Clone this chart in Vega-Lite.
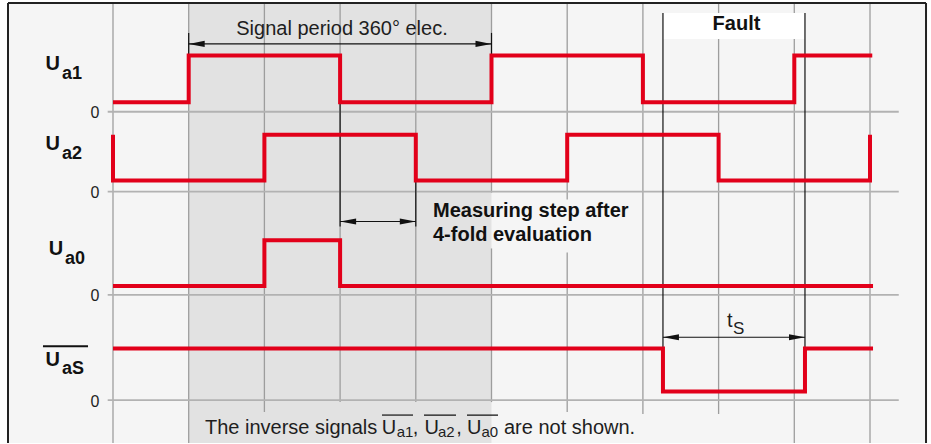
{
  "$schema": "https://vega.github.io/schema/vega-lite/v6.json",
  "width": 931,
  "height": 444,
  "autosize": {"type": "fit", "contains": "padding"},
  "padding": 0,
  "background": "#ffffff",
  "config": {"view": {"stroke": null}},
  "datasets": {
    "frameFill": [{"x": -1.387, "x2": 10.74, "y": 0, "y2": 44.1}],
    "shade": [{"x": 1, "x2": 5, "y": 0, "y2": 44.1}],
    "faultBox": [{"x": 7.265, "x2": 9.141, "y": 40.5, "y2": 43.1}],
    "grid": [
      {"x": 0, "x2": 0, "y": 44.1, "y2": 0},
      {"x": 1, "x2": 1, "y": 44.1, "y2": 0},
      {"x": 2, "x2": 2, "y": 44.1, "y2": 3.1},
      {"x": 3, "x2": 3, "y": 44.1, "y2": 4.1},
      {"x": 4, "x2": 4, "y": 44.1, "y2": 4.1},
      {"x": 5, "x2": 5, "y": 44.1, "y2": 25.1},
      {"x": 5, "x2": 5, "y": 19.5, "y2": 4.1},
      {"x": 6, "x2": 6, "y": 44.1, "y2": 24.4},
      {"x": 6, "x2": 6, "y": 19.1, "y2": 3.1},
      {"x": 7, "x2": 7, "y": 44.1, "y2": 2.9},
      {"x": 8, "x2": 8, "y": 44.1, "y2": 2.9},
      {"x": 9, "x2": 9, "y": 44.1, "y2": 0},
      {"x": 10, "x2": 10, "y": 44.1, "y2": 0}
    ],
    "baselines": [
      {"x": -0.07, "x2": 10.38, "y": 33.2, "y2": 33.2},
      {"x": -0.07, "x2": 10.38, "y": 25.2, "y2": 25.2},
      {"x": -0.07, "x2": 10.38, "y": 14.85, "y2": 14.85},
      {"x": -0.07, "x2": 10.38, "y": 4.3, "y2": 4.3}
    ],
    "frame": [
      {"x": -1.387, "x2": -1.387, "y": 0, "y2": 44.1},
      {"x": -1.387, "x2": 10.74, "y": 44.1, "y2": 44.1},
      {"x": 10.74, "x2": 10.74, "y": 0, "y2": 44.1}
    ],
    "dims": [
      {"x": 1, "x2": 1, "y": 41.1, "y2": 38.9},
      {"x": 5, "x2": 5, "y": 41.1, "y2": 38.9},
      {"x": 1, "x2": 5, "y": 40.0, "y2": 40.0},
      {"x": 3, "x2": 3, "y": 34.2, "y2": 21.7},
      {"x": 4, "x2": 4, "y": 26.3, "y2": 21.7},
      {"x": 3, "x2": 4, "y": 22.2, "y2": 22.2},
      {"x": 7.265, "x2": 7.265, "y": 43.1, "y2": 9.6},
      {"x": 9.141, "x2": 9.141, "y": 43.1, "y2": 9.6},
      {"x": 7.265, "x2": 9.141, "y": 10.6, "y2": 10.6},
      {"x": 3.553, "x2": 3.963, "y": 2.8, "y2": 2.8},
      {"x": 4.108, "x2": 4.531, "y": 2.8, "y2": 2.8},
      {"x": 4.676, "x2": 5.086, "y": 2.8, "y2": 2.8}
    ],
    "labelBar": [{"x": -0.925, "x2": -0.33, "y": 9.7, "y2": 9.7}],
    "arrows": [
      {"x": 1, "y": 40.0, "dir": "left"},
      {"x": 5, "y": 40.0, "dir": "right"},
      {"x": 3, "y": 22.2, "dir": "left"},
      {"x": 4, "y": 22.2, "dir": "right"},
      {"x": 7.265, "y": 10.6, "dir": "left"},
      {"x": 9.141, "y": 10.6, "dir": "right"}
    ],
    "signals": [
      {"s": "Ua1", "i": 0, "x": 0, "y": 34.15},
      {"s": "Ua1", "i": 1, "x": 1, "y": 34.15},
      {"s": "Ua1", "i": 2, "x": 1, "y": 38.83},
      {"s": "Ua1", "i": 3, "x": 3, "y": 38.83},
      {"s": "Ua1", "i": 4, "x": 3, "y": 34.15},
      {"s": "Ua1", "i": 5, "x": 5, "y": 34.15},
      {"s": "Ua1", "i": 6, "x": 5, "y": 38.83},
      {"s": "Ua1", "i": 7, "x": 7, "y": 38.83},
      {"s": "Ua1", "i": 8, "x": 7, "y": 34.15},
      {"s": "Ua1", "i": 9, "x": 9, "y": 34.15},
      {"s": "Ua1", "i": 10, "x": 9, "y": 38.83},
      {"s": "Ua1", "i": 11, "x": 10.03, "y": 38.83},
      {"s": "Ua2", "i": 0, "x": 0, "y": 30.9},
      {"s": "Ua2", "i": 1, "x": 0, "y": 26.3},
      {"s": "Ua2", "i": 2, "x": 2, "y": 26.3},
      {"s": "Ua2", "i": 3, "x": 2, "y": 30.9},
      {"s": "Ua2", "i": 4, "x": 4, "y": 30.9},
      {"s": "Ua2", "i": 5, "x": 4, "y": 26.3},
      {"s": "Ua2", "i": 6, "x": 6, "y": 26.3},
      {"s": "Ua2", "i": 7, "x": 6, "y": 30.9},
      {"s": "Ua2", "i": 8, "x": 8, "y": 30.9},
      {"s": "Ua2", "i": 9, "x": 8, "y": 26.3},
      {"s": "Ua2", "i": 10, "x": 10, "y": 26.3},
      {"s": "Ua2", "i": 11, "x": 10, "y": 30.9},
      {"s": "Ua0", "i": 0, "x": 0, "y": 15.73},
      {"s": "Ua0", "i": 1, "x": 2, "y": 15.73},
      {"s": "Ua0", "i": 2, "x": 2, "y": 20.33},
      {"s": "Ua0", "i": 3, "x": 3, "y": 20.33},
      {"s": "Ua0", "i": 4, "x": 3, "y": 15.73},
      {"s": "Ua0", "i": 5, "x": 10.04, "y": 15.73},
      {"s": "UaS", "i": 0, "x": 0, "y": 9.47},
      {"s": "UaS", "i": 1, "x": 7.265, "y": 9.47},
      {"s": "UaS", "i": 2, "x": 7.265, "y": 5.15},
      {"s": "UaS", "i": 3, "x": 9.141, "y": 5.15},
      {"s": "UaS", "i": 4, "x": 9.141, "y": 9.47},
      {"s": "UaS", "i": 5, "x": 10.04, "y": 9.47}
    ],
    "textReg": [
      {"x": 1.215, "y": 0.9, "t": "The inverse signals"},
      {"x": 3.549, "y": 0.9, "t": "U"},
      {"x": 3.96, "y": 0.9, "t": ","},
      {"x": 4.115, "y": 0.9, "t": "U"},
      {"x": 4.535, "y": 0.9, "t": ","},
      {"x": 4.676, "y": 0.9, "t": "U"},
      {"x": 5.165, "y": 0.9, "t": "are not shown."},
      {"x": 8.111, "y": 11.6, "t": "t"}
    ],
    "textRegCenter": [{"x": 3.025, "y": 40.9, "t": "Signal period 360° elec."}],
    "textSub": [
      {"x": 3.748, "y": 0.65, "t": "a1"},
      {"x": 4.293, "y": 0.65, "t": "a2"},
      {"x": 4.868, "y": 0.65, "t": "a0"}
    ],
    "textTs": [{"x": 8.19, "y": 10.97, "t": "S"}],
    "textBold": [
      {"x": 4.227, "y": 22.7, "t": "Measuring step after"},
      {"x": 4.227, "y": 20.2, "t": "4-fold evaluation"}
    ],
    "textFault": [{"x": 8.236, "y": 41.4, "t": "Fault"}],
    "labU": [
      {"x": -0.89, "y": 37.4, "t": "U"},
      {"x": -0.89, "y": 29.4, "t": "U"},
      {"x": -0.85, "y": 18.8, "t": "U"},
      {"x": -0.89, "y": 7.67, "t": "U"}
    ],
    "labSub": [
      {"x": -0.674, "y": 36.47, "t": "a1"},
      {"x": -0.674, "y": 28.47, "t": "a2"},
      {"x": -0.634, "y": 17.9, "t": "a0"},
      {"x": -0.674, "y": 6.9, "t": "aS"}
    ],
    "zeros": [
      {"x": -0.18, "y": 33.05, "t": "0"},
      {"x": -0.18, "y": 25.05, "t": "0"},
      {"x": -0.18, "y": 14.7, "t": "0"},
      {"x": -0.18, "y": 4.15, "t": "0"}
    ]
  },
  "encoding": {
    "x": {"field": "x", "type": "quantitative", "axis": null, "scale": {"domain": [-1.4927, 10.8058], "nice": false, "zero": false}},
    "y": {"field": "y", "type": "quantitative", "axis": null, "scale": {"domain": [0, 44.4], "nice": false, "zero": false}}
  },
  "layer": [
    {"data": {"name": "frameFill"}, "mark": {"type": "rect", "fill": "#f5f5f5"}, "encoding": {"x2": {"field": "x2"}, "y2": {"field": "y2"}}},
    {"data": {"name": "shade"}, "mark": {"type": "rect", "fill": "#e2e2e2"}, "encoding": {"x2": {"field": "x2"}, "y2": {"field": "y2"}}},
    {"data": {"name": "grid"}, "mark": {"type": "rule", "stroke": "#9d9d9d", "strokeWidth": 1.3}, "encoding": {"x2": {"field": "x2"}, "y2": {"field": "y2"}}},
    {"data": {"name": "baselines"}, "mark": {"type": "rule", "stroke": "#b2b2b2", "strokeWidth": 1.8}, "encoding": {"x2": {"field": "x2"}, "y2": {"field": "y2"}}},
    {"data": {"name": "faultBox"}, "mark": {"type": "rect", "fill": "#ffffff"}, "encoding": {"x2": {"field": "x2"}, "y2": {"field": "y2"}}},
    {"data": {"name": "dims"}, "mark": {"type": "rule", "stroke": "#111111", "strokeWidth": 1.2}, "encoding": {"x2": {"field": "x2"}, "y2": {"field": "y2"}}},
    {"data": {"name": "frame"}, "mark": {"type": "rule", "stroke": "#222222", "strokeWidth": 2}, "encoding": {"x2": {"field": "x2"}, "y2": {"field": "y2"}}},
    {"data": {"name": "labelBar"}, "mark": {"type": "rule", "stroke": "#111111", "strokeWidth": 2}, "encoding": {"x2": {"field": "x2"}, "y2": {"field": "y2"}}},
    {"data": {"name": "signals"}, "mark": {"type": "line", "stroke": "#e2001a", "strokeWidth": 4, "strokeJoin": "miter", "strokeCap": "butt"}, "encoding": {"detail": {"field": "s"}, "order": {"field": "i", "type": "quantitative"}}},
    {"data": {"name": "arrows"}, "mark": {"type": "point", "filled": true, "fill": "#111111", "opacity": 1, "size": 256, "strokeWidth": 0}, "encoding": {"shape": {"field": "dir", "type": "nominal", "legend": null, "scale": {"domain": ["left", "right"], "range": ["M0,0L2,-0.38L2,0.38Z", "M0,0L-2,-0.38L-2,0.38Z"]}}}},
    {"data": {"name": "textReg"}, "mark": {"type": "text", "align": "left", "baseline": "alphabetic", "font": "Liberation Sans", "fontSize": 20, "fill": "#1e1e1e"}, "encoding": {"text": {"field": "t"}}},
    {"data": {"name": "textRegCenter"}, "mark": {"type": "text", "align": "center", "baseline": "alphabetic", "font": "Liberation Sans", "fontSize": 20, "fill": "#1e1e1e"}, "encoding": {"text": {"field": "t"}}},
    {"data": {"name": "textSub"}, "mark": {"type": "text", "align": "left", "baseline": "alphabetic", "font": "Liberation Sans", "fontSize": 15, "fill": "#1e1e1e"}, "encoding": {"text": {"field": "t"}}},
    {"data": {"name": "textTs"}, "mark": {"type": "text", "align": "left", "baseline": "alphabetic", "font": "Liberation Sans", "fontSize": 17, "fill": "#1e1e1e"}, "encoding": {"text": {"field": "t"}}},
    {"data": {"name": "textBold"}, "mark": {"type": "text", "align": "left", "baseline": "alphabetic", "font": "Liberation Sans", "fontSize": 20, "fontWeight": "bold", "fill": "#111111"}, "encoding": {"text": {"field": "t"}}},
    {"data": {"name": "textFault"}, "mark": {"type": "text", "align": "center", "baseline": "alphabetic", "font": "Liberation Sans", "fontSize": 20, "fontWeight": "bold", "fill": "#111111"}, "encoding": {"text": {"field": "t"}}},
    {"data": {"name": "labU"}, "mark": {"type": "text", "align": "left", "baseline": "alphabetic", "font": "Liberation Sans", "fontSize": 20, "fontWeight": "bold", "fill": "#111111"}, "encoding": {"text": {"field": "t"}}},
    {"data": {"name": "labSub"}, "mark": {"type": "text", "align": "left", "baseline": "alphabetic", "font": "Liberation Sans", "fontSize": 18, "fontWeight": "bold", "fill": "#111111"}, "encoding": {"text": {"field": "t"}}},
    {"data": {"name": "zeros"}, "mark": {"type": "text", "align": "right", "baseline": "middle", "font": "Liberation Sans", "fontSize": 16, "fill": "#1e1e1e"}, "encoding": {"text": {"field": "t"}}}
  ]
}
